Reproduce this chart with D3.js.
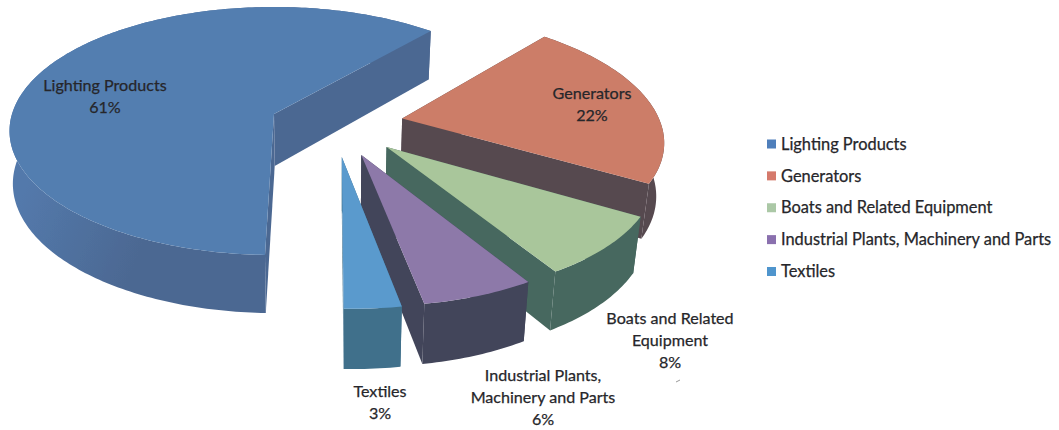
<!DOCTYPE html>
<html><head><meta charset="utf-8">
<script src="https://cdn.jsdelivr.net/npm/d3@7"></script>
<style>
html,body{margin:0;padding:0;background:#fff;overflow:hidden}
text{font-family:Lato,"Open Sans",sans-serif;fill:#26262a;stroke:#26262a;stroke-width:0.25px}
</style></head><body>
<svg id="c" width="1059" height="430"></svg>
<script>
const categories=["Lighting Products","Generators","Boats and Related Equipment","Industrial Plants, Machinery and Parts","Textiles"];
const shares=[61,22,8,6,3];
const topColors=["#537eb0","#cc7d67","#a9c69b","#8d79a9","#5a9acd"];
const wallColors=["#4c6892","#574950","#46675e","#42455a","#40708b"];
const wallLight="#5379ab";
const legendColors=["#4f7fbb","#d57a6c","#abc8a6","#8a70ae","#4f95cd"];
const labelLines=[["Lighting Products","61%"],["Generators","22%"],["Boats and Related","Equipment","8%"],["Industrial Plants,","Machinery and Parts","6%"],["Textiles","3%"]];
const labelAnchors=[[105,85],[592,93],[670,318],[543,375],[380,391]];

const svg=d3.select("#c");
const defs=svg.append("defs");
defs.append("filter").attr("id","soft").append("feGaussianBlur").attr("stdDeviation",0.55);
const grad=defs.append("linearGradient").attr("id","wall0").attr("gradientUnits","userSpaceOnUse")
  .attr("x1",20).attr("y1",200).attr("x2",240).attr("y2",290);
grad.append("stop").attr("offset",0).attr("stop-color",wallLight);
grad.append("stop").attr("offset",0.55).attr("stop-color",wallColors[0]);

// perspective model of a tilted disc
const X0=274,Y0=114,A=262,B=121.7,K=0.137,DEPTH=52,VX=345,CONV=0.025,CONV_LEFT=0.01;
const CX=0.23,CY=-0.078,EX=0.26,EY=0.26,SLICE_R=0.975;
const ROT=181.7*Math.PI/180;
function project(u,v,z){
  const w=1+K*v;
  const x=X0+A*u/w;
  return [x-(x-VX)*(x<VX?CONV_LEFT:CONV)*z, Y0-B*v/w+z*DEPTH/Math.pow(w,0.75)];
}
const slices=d3.pie().sort(null).startAngle(ROT).endAngle(ROT+2*Math.PI)(shares);
const line=d3.line();
const root=svg.append("g").attr("filter","url(#soft)");

slices.forEach((s,i)=>{
  const mid=(s.startAngle+s.endAngle)/2;
  const ox=i===0?0:CX+EX*Math.sin(mid);
  const oy=i===0?0:CY+EY*Math.cos(mid);
  const r=i===0?1:SLICE_R;
  const n=Math.max(8,Math.round((s.endAngle-s.startAngle)*60));
  const angles=d3.range(n+1).map(k=>s.startAngle+(s.endAngle-s.startAngle)*k/n);
  const rim=z=>angles.map(a=>project(ox+r*Math.sin(a),oy+r*Math.cos(a),z));
  const apex=z=>project(ox,oy,z);
  const g=root.append("g");
  const rimTop=rim(0),rimBot=rim(1);
  const wallFill=i===0?"url(#wall0)":wallColors[i];
  g.append("path").attr("d",line([apex(0),rimTop[0],rimBot[0],apex(1)])+"Z").attr("fill",wallColors[i]);
  g.append("path").attr("d",line([apex(0),rimTop[n],rimBot[n],apex(1)])+"Z").attr("fill",wallColors[i]);
  g.append("path").attr("d",line(rimTop.concat(rimBot.slice().reverse()))+"Z").attr("fill",wallFill);
  g.append("path").attr("d",line([apex(0)].concat(rimTop))+"Z").attr("fill",topColors[i]);
});

const labels=svg.append("g").attr("font-size",16.1).attr("text-anchor","middle");
labelLines.forEach((ls,i)=>{
  ls.forEach((t,j)=>{
    labels.append("text").attr("x",labelAnchors[i][0]).attr("y",labelAnchors[i][1]+j*22).attr("dy","0.35em").text(t);
  });
});
svg.append("path").attr("d","M676 382L680 380").attr("stroke","#999").attr("fill","none");

const ly=d3.scalePoint().domain(categories).range([144,271.5]);
const legend=svg.append("g");
categories.forEach((c,i)=>{
  legend.append("rect").attr("x",767).attr("y",ly(c)-4.5).attr("width",9).attr("height",9).attr("fill",legendColors[i]);
  legend.append("text").attr("x",781).attr("y",ly(c)).attr("dy","0.35em").attr("font-size",16.4).text(c);
});
</script></body></html>
